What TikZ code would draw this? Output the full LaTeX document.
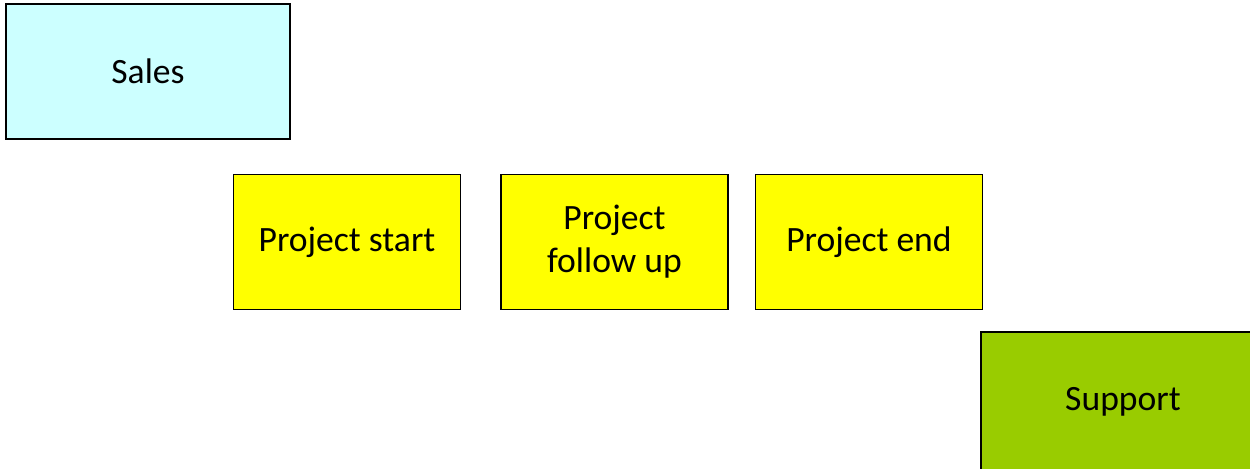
\documentclass[tikz,border=0pt]{standalone}
\usepackage{fontspec}
\setmainfont{Carlito}
\usetikzlibrary{positioning}
\definecolor{salescyan}{HTML}{CCFFFF}
\definecolor{projyellow}{HTML}{FFFF00}
\definecolor{supgreen}{HTML}{99CC00}

\begin{document}
\begin{tikzpicture}[x=0.75pt,y=-0.75pt]
        \tikzstyle{box}=[draw, rectangle, line width=1.1pt, text centered, align=center, inner sep=0pt, font=\fontsize{26.7}{32.2}\selectfont]
        \tikzstyle{wide}=[box, minimum width=213pt, minimum height=101.25pt]
        \tikzstyle{proj}=[box, fill=projyellow, minimum width=170.25pt, minimum height=101.5pt]

        \clip (0,0) rectangle (1250,468);
        \useasboundingbox (0,0) rectangle (1250,468);

        \node[wide,fill=salescyan] (sales) at (148,71.5) {Sales};
        \node[proj] (start) at (347,242) {Project start};
        \node[proj] (follow) [right=29.25pt of start] {Project\\follow up};
        \node[proj] (end) [right=19.5pt of follow] {Project end};
        \node[wide,fill=supgreen,minimum height=105pt] (support) at (1123,402) {Support};
    \end{tikzpicture}
\end{document}
